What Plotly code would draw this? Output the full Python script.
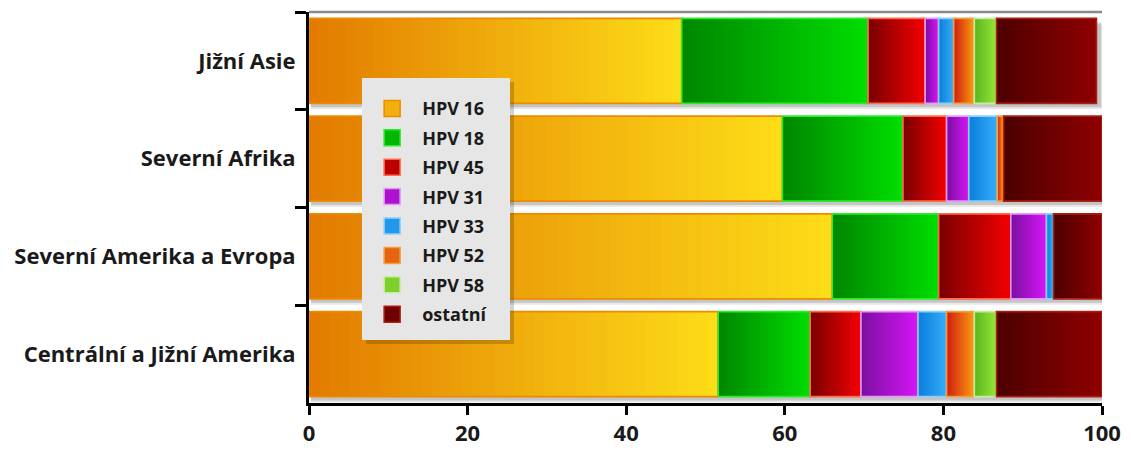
import plotly.graph_objects as go

# Regions (top to bottom) and HPV types in stacking order
regions = ["Jižní Asie", "Severní Afrika", "Severní Amerika a Evropa", "Centrální a Jižní Amerika"]
hpv_types = ["HPV 16", "HPV 18", "HPV 45", "HPV 31", "HPV 33", "HPV 52", "HPV 58", "ostatní"]

# Share of cervical cancer cases (%) per region
hpv16 = [47.0, 59.7, 66.0, 51.6]
hpv18 = [23.5, 15.2, 13.4, 11.6]
hpv45 = [7.2, 5.5, 9.1, 6.4]
hpv31 = [1.7, 2.8, 4.5, 7.2]
hpv33 = [1.9, 3.6, 0.9, 3.6]
hpv52 = [2.6, 0.8, 0.0, 3.5]
hpv58 = [2.8, 0.0, 0.0, 2.8]
ostatni = [12.6, 12.4, 6.1, 13.3]

x_ticks = [0, 20, 40, 60, 80, 100]

series = [hpv16, hpv18, hpv45, hpv31, hpv33, hpv52, hpv58, ostatni]

# Gradient (dark -> light) and outline colour for every type
styles = [
    ("#E27A00", "#FDDD18", "#EE8A00"),
    ("#008600", "#00DE00", "#2CEB2C"),
    ("#780000", "#F40000", "#FF6A48"),
    ("#7A10A0", "#D616F6", "#E39AF6"),
    ("#0A7EDC", "#37ADF8", "#8CCFFA"),
    ("#D21E10", "#F99C12", "#F0A040"),
    ("#5AB61E", "#97E638", "#C6EEA0"),
    ("#4C0000", "#900000", "#A82010"),
]

BAR_W = 0.87
STRIPS = 40
FONT = "Open Sans"


def hex_rgb(h):
    h = h.lstrip("#")
    return tuple(int(h[i:i + 2], 16) for i in (0, 2, 4))


def mix(c1, c2, t):
    a, b = hex_rgb(c1), hex_rgb(c2)
    return "rgb(%d,%d,%d)" % tuple(round(a[i] + (b[i] - a[i]) * t) for i in range(3))


# cumulative starting points of every segment
starts = []
acc = [0.0] * len(regions)
for vals in series:
    starts.append(list(acc))
    acc = [a + v for a, v in zip(acc, vals)]
totals = acc

fig = go.Figure()

# soft drop shadows under each stacked bar
for off, alpha, grow in [(0.06, 0.09, 0.55), (0.04, 0.15, 0.35)]:
    fig.add_trace(go.Bar(
        y=regions, x=[t + grow for t in totals], base=[0.25] * len(regions),
        orientation="h", width=BAR_W, offset=-BAR_W / 2 + off,
        marker=dict(color="rgba(0,0,0,%.2f)" % alpha, line=dict(width=0)),
        showlegend=False, hoverinfo="skip",
    ))

# gradient-filled segments: each strip runs to the segment end and the
# next (lighter) strip is painted over it, so no seams can appear
for name, vals, st, (c_lo, c_hi, c_line) in zip(hpv_types, series, starts, styles):
    ys, xs, bs, cs = [], [], [], []
    for r, (v, s) in enumerate(zip(vals, st)):
        if v <= 0:
            continue
        step = v / STRIPS
        for k in range(STRIPS):
            ys.append(regions[r])
            bs.append(s + k * step)
            xs.append(v - k * step)
            cs.append(mix(c_lo, c_hi, (k + 0.5) / STRIPS))
    fig.add_trace(go.Bar(
        y=ys, x=xs, base=bs, orientation="h", width=BAR_W, offset=-BAR_W / 2,
        marker=dict(color=cs, line=dict(width=0)),
        showlegend=False, hoverinfo="skip",
    ))
    # outline of each segment
    fig.add_trace(go.Bar(
        y=regions, x=[v if v > 0 else None for v in vals], base=st,
        orientation="h", width=BAR_W, offset=-BAR_W / 2, name=name,
        marker=dict(color="rgba(0,0,0,0)", line=dict(color=c_line, width=1.6)),
        showlegend=False,
    ))

# legend entries
for name, (c_lo, c_hi, c_line) in zip(hpv_types, styles):
    fig.add_trace(go.Scatter(
        x=[None], y=[None], mode="markers", name=name, legendgroup=name,
        marker=dict(symbol="square", size=16, color=mix(c_lo, c_hi, 0.55),
                    line=dict(color=c_line, width=1.5)),
    ))

fig.update_layout(
    width=1131, height=450,
    margin=dict(l=309, r=29, t=12, b=47, autoexpand=False),
    barmode="overlay",
    plot_bgcolor="white", paper_bgcolor="white",
    font=dict(family=FONT, color="#1a1a1a"),
    showlegend=True,
    legend=dict(
        x=0.067, y=0.800, xanchor="left", yanchor="top",
        bgcolor="rgba(0,0,0,0)", borderwidth=0,
        font=dict(family=FONT, size=18, color="#1a1a1a", weight="bold"),
        tracegroupgap=3, itemwidth=50,
    ),
    xaxis=dict(
        range=[0, 100], tickvals=x_ticks, showgrid=False, zeroline=False,
        showline=True, linecolor="black", linewidth=3, automargin=False,
        ticks="outside", ticklen=9, tickwidth=3, tickcolor="black",
        ticklabelstandoff=0,
        tickfont=dict(family=FONT, size=22, weight="bold", color="#1a1a1a"),
    ),
    yaxis=dict(
        categoryorder="array", categoryarray=regions, autorange="reversed",
        showgrid=False, zeroline=False, automargin=False,
        showline=True, linecolor="black", linewidth=3,
        ticks="outside", ticklen=11, tickwidth=3, tickcolor="black",
        tickson="boundaries", ticklabelstandoff=6,
        tickfont=dict(family=FONT, size=22, weight="bold", color="#1a1a1a"),
    ),
    shapes=[
        # grey frame line along the top of the plot area
        dict(type="line", xref="paper", yref="paper", x0=0, x1=1, y0=1, y1=1,
             line=dict(color="#8A8A8A", width=2.5), layer="above"),
        # legend box shadow and panel
        dict(type="rect", xref="paper", yref="paper",
             x0=0.072, x1=0.2585, y0=0.151, y1=0.821,
             fillcolor="rgba(0,0,0,0.18)", line=dict(width=0), layer="above"),
        dict(type="rect", xref="paper", yref="paper",
             x0=0.0668, x1=0.2535, y0=0.1611, y1=0.8312,
             fillcolor="#E6E6E6", line=dict(width=0), layer="above"),
    ],
)

fig.write_html("out.html")
